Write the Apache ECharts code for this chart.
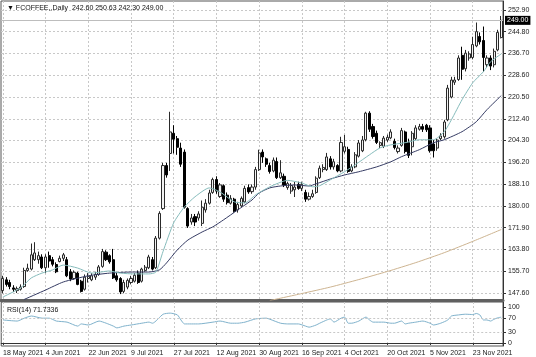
<!DOCTYPE html>
<html><head><meta charset="utf-8">
<script src="https://cdn.jsdelivr.net/npm/echarts@6/dist/echarts.min.js"></script>
<style>html,body{margin:0;padding:0;background:#fff}#c{width:536px;height:357px}</style>
</head><body><div id="c"></div>
<script>
const symbolName = 'FCOFFEE,,Daily';
const dates = ['18 May 2021','19 May 2021','20 May 2021','21 May 2021','24 May 2021','25 May 2021','26 May 2021','27 May 2021','28 May 2021',
'1 Jun 2021','2 Jun 2021','3 Jun 2021','4 Jun 2021','7 Jun 2021','8 Jun 2021','9 Jun 2021','10 Jun 2021','11 Jun 2021','14 Jun 2021','15 Jun 2021','16 Jun 2021','17 Jun 2021','18 Jun 2021','21 Jun 2021','22 Jun 2021','23 Jun 2021','24 Jun 2021','25 Jun 2021','28 Jun 2021','29 Jun 2021','30 Jun 2021',
'1 Jul 2021','2 Jul 2021','6 Jul 2021','7 Jul 2021','8 Jul 2021','9 Jul 2021','12 Jul 2021','13 Jul 2021','14 Jul 2021','15 Jul 2021','16 Jul 2021','19 Jul 2021','20 Jul 2021','21 Jul 2021','22 Jul 2021','23 Jul 2021','26 Jul 2021','27 Jul 2021','28 Jul 2021','29 Jul 2021','30 Jul 2021',
'2 Aug 2021','3 Aug 2021','4 Aug 2021','5 Aug 2021','6 Aug 2021','9 Aug 2021','10 Aug 2021','11 Aug 2021','12 Aug 2021','13 Aug 2021','16 Aug 2021','17 Aug 2021','18 Aug 2021','19 Aug 2021','20 Aug 2021','23 Aug 2021','24 Aug 2021','25 Aug 2021','26 Aug 2021','27 Aug 2021','30 Aug 2021','31 Aug 2021',
'1 Sep 2021','2 Sep 2021','3 Sep 2021','7 Sep 2021','8 Sep 2021','9 Sep 2021','10 Sep 2021','13 Sep 2021','14 Sep 2021','15 Sep 2021','16 Sep 2021','17 Sep 2021','20 Sep 2021','21 Sep 2021','22 Sep 2021','23 Sep 2021','24 Sep 2021','27 Sep 2021','28 Sep 2021','29 Sep 2021','30 Sep 2021',
'1 Oct 2021','4 Oct 2021','5 Oct 2021','6 Oct 2021','7 Oct 2021','8 Oct 2021','11 Oct 2021','12 Oct 2021','13 Oct 2021','14 Oct 2021','15 Oct 2021','18 Oct 2021','19 Oct 2021','20 Oct 2021','21 Oct 2021','22 Oct 2021','25 Oct 2021','26 Oct 2021','27 Oct 2021','28 Oct 2021','29 Oct 2021',
'1 Nov 2021','2 Nov 2021','3 Nov 2021','4 Nov 2021','5 Nov 2021','8 Nov 2021','9 Nov 2021','10 Nov 2021','11 Nov 2021','12 Nov 2021','15 Nov 2021','16 Nov 2021','17 Nov 2021','18 Nov 2021','19 Nov 2021','22 Nov 2021','23 Nov 2021','24 Nov 2021','26 Nov 2021','29 Nov 2021','30 Nov 2021',
'1 Dec 2021','2 Dec 2021','3 Dec 2021','6 Dec 2021'];

const opens = [148.5,152.5,151.5,149.5,148.5,149,150,156,156.5,160,160,161,157,161.5,160,158.2,159.3,160.5,160,155.5,
153,155,152,149,153,152.5,153.5,154.5,157.5,162.8,161.5,160,154,153,148.2,149.8,151.5,152,155,152,
156,157,160,157,168,179,195,199.5,207,205,201.5,200,179,174,176,175.5,173.5,178.5,181,185,
189.8,183.5,187.5,184,181,182.5,178.5,180,181.5,186.8,185.3,187,193.5,200,197.5,195,193,196.5,190.5,191,
186.8,185.5,186,188,186.5,185,182.5,183.5,185,190.5,193.5,193.5,197.5,194.5,195,193,200.3,201,193,194.5,
198.5,200.5,204.6,214.5,209.5,207,202.5,202.2,204.5,205.3,204,200.2,202.5,207.5,203.5,202,205,208.5,209.5,210,
209,203,201.5,205,205.7,212,220.5,226,227,236,231,235,235.2,239.5,243,241.5,232.5,235,232.5,238,242.6];
const closes = [153,150.8,150,149,149.2,149.8,156,156.8,161.8,162.5,161.5,157,161,159.5,158.3,155.5,160.5,161.8,154,152.8,
155.3,150.8,148.2,153.5,153.8,154,154.5,157.3,163,160,159.2,153.2,152.5,148,151.5,152.3,153,154.2,151.5,156.5,
157.2,161,156.5,168,177.2,195,191.5,207.5,204.8,201.8,195.5,179.5,172.5,175.5,174,177,179.5,181,184.8,189.8,
185.5,187.8,182.5,181.2,182.8,178,180.5,182.8,186.5,185.2,187,193.5,199.7,198.2,195.5,192.8,197,190.5,192.3,187.8,
188.3,187.6,187,186.5,188,182.5,183.5,184.5,190.3,194,194.3,198.2,194.5,196.4,193,203.6,202,192.8,194.5,199,
203.4,204.5,214.5,208.5,205.8,203.6,203.5,205.2,205.5,207.5,201.7,201.5,208,200.2,198.8,207,209,209.5,208.5,208.3,
200.5,200.5,204.5,206,211.2,223.8,226.8,226.8,235,230.8,236.8,236.5,240,244.8,241,235.2,235,232,237.5,244.5,249];
const lows = [147.5,150,149,148,147.6,148.5,149.5,155.5,156,159.5,158.5,156.5,155,157,157.5,155,159,159.5,153.5,152,
152.5,150.5,147.8,148.5,151.5,152,152.5,154,157,159.5,158.5,152.8,151.8,147.2,147.5,149,150.8,151.5,151,151.5,
155.5,156.5,156,156.5,167.5,178.5,190.5,193,199.5,199,194.5,179,171.8,173,172.5,174.5,172.5,177.5,180.5,184.5,
184.5,183,181.5,180.5,180.5,177.5,177.5,179.5,181,184.5,184.5,186,193,196,194.5,192,192.5,190,190,187,
186,184.5,183.3,186,185.5,181.5,182,183,184.5,190,192.5,193,193.5,193.5,192.5,192.5,199.5,192.3,192.5,194,
198,200,204,207.5,205,203,201.5,201.5,203.8,204.8,201,199.5,202,199.5,197.8,198.8,204.5,208,207.5,207.5,
199.8,198,200.5,204.5,205,211.5,220,225,226.5,226.9,230,234,234.5,239,240,229.9,231.5,230.5,231.5,237.5,242.3];
const highs = [154,153.5,152.5,150.5,150,150.8,157,158.5,166,166.5,163,162,162,163,161,159,161.5,162.5,161,156.5,
156,155.5,152.5,154.5,155,155,155.5,158,164,163.5,162,164,155.5,153.5,152.5,153,154,155,156,157,
158,161.8,161,168.8,178,196,196,215,210,206,203.5,201,179.5,177,177,178,182,182.5,186,190.5,
191,188.5,188,185,184,183,181.5,183.5,187.5,188,188,194.5,200.9,201,198,196,198,198,197,192,
189,188.5,188.9,189,189,186,185,186,191,195,195.5,199.7,198.5,197.5,195.5,205.7,206.4,202,195.5,200,
204.5,206,215,215.2,210.5,208,204,206,206.5,208.5,205,202.5,209,208,205,207.8,210,210.5,210.5,210.5,
210,204.5,205,207,212,225,228,228,236,239.2,238,237.5,242.9,248.2,244.5,246.7,236,236,238.5,245.5,250.63];

// moving averages as [bar index, value]
const maFast = [[0,146.1],[5,149.5],[8,153.2],[11,155],[14,156.2],[17,158],[21,156.9],[25,155],[30,155.8],[33,155],[37,154.7],[41,154.7],[43,155.4],[45,163],[48,173.7],[51,179.6],[54,183.4],[58,186.7],[61,185.2],[65,181.5],[68,181.1],[71,184.1],[75,187.1],[80,189.5],[84,188.5],[87,187.1],[89,187.5],[92,189.7],[96,192.7],[99,195.3],[103,199],[106,201.6],[109,202.7],[113,203.5],[117,204.6],[121,204.6],[124,207.6],[126,212],[129,219.5],[132,225.8],[135,229.9],[137,233.6],[140,236.5]];
const maSlow = [[6,145.2],[12,148.7],[17,151.7],[24,154],[30,155],[36,155.4],[41,155.4],[44,156.2],[46,158.8],[49,163.6],[52,167.3],[56,170.3],[59,172.2],[62,174.8],[66,178.5],[70,182.2],[72,184.8],[75,186.7],[78,187.4],[82,187.8],[86,187.4],[88,188.2],[92,190],[96,191.5],[100,192.7],[105,194.5],[109,196.4],[112,198.3],[117,200.9],[121,203.5],[124,204.6],[129,207.6],[133,211.3],[136,215.8],[140,221]];
const maLong = [[75,144.8],[84,147.4],[92,149.8],[100,152.6],[108,155.6],[116,158.9],[124,162.6],[132,166.8],[140,171.2]];
const rsi14 = [[0,64],[4,61],[6,69],[8,75],[11,69],[13,69],[15,61],[18,58],[21,47],[22,53],[24,50],[27,61],[29,55],[31,47],[32,42],[34,47],[36,50],[39,55],[41,58],[42,55],[45,80],[47,83],[49,78],[50,64],[51,53],[55,53],[59,58],[61,61],[64,55],[66,55],[68,58],[71,67],[74,69],[75,66],[78,55],[80,53],[83,53],[85,47],[86,44],[88,50],[89,55],[91,64],[92,67],[93,58],[95,69],[96,72],[97,55],[98,55],[100,61],[102,72],[103,64],[104,58],[107,58],[109,55],[110,55],[112,61],[113,53],[114,55],[116,58],[118,61],[120,55],[121,50],[123,55],[125,64],[126,75],[128,78],[130,80],[132,79],[133,82],[134,78],[135,64],[136,64],[137,61],[138,66],[139,70],[140,71.7336]];

const priceTicks = [147.6,155.7,163.8,171.9,180.0,188.1,196.2,204.3,212.4,220.5,228.6,236.7,244.8,252.9];
const rsiTicks = [0,30,70,100];
const rsiLevels = [30,70];

const candleData = dates.map((d,i)=>[opens[i],closes[i],lows[i],highs[i]]);
const last = dates.length-1;
const header = '\u25BC ' + symbolName + '  ' + [opens[last],highs[last],lows[last],closes[last]].map(v=>v.toFixed(2)).join(' ');
const rsiLast = rsi14[rsi14.length-1][1];

const FONT = 'Liberation Sans';
const gridLine = {show:true, lineStyle:{color:'#c8c8c8', type:[2,2], width:1}};
const every12 = (i)=> i % 12 === 0;

const chart = echarts.init(document.getElementById('c'), null, {renderer:'canvas'});
chart.setOption({
  animation:false,
  backgroundColor:'#fff',
  title:[
    {text:header, left:2, top:0, textStyle:{fontSize:7, fontWeight:'normal', color:'#111', fontFamily:FONT}},
    {text:'RSI(14) ' + rsiLast, left:2, top:302, textStyle:{fontSize:7, fontWeight:'normal', color:'#111', fontFamily:FONT}}
  ],
  grid:[
    {left:1, right:33, top:1, height:299, show:true, borderColor:'#555', borderWidth:1},
    {left:1, right:33, top:302, height:44, show:true, borderColor:'#555', borderWidth:1}
  ],
  xAxis:[
    {type:'category', gridIndex:0, data:dates, boundaryGap:true,
     axisLine:{show:true, lineStyle:{color:'#606060', width:3}},
     axisTick:{show:false}, axisLabel:{show:false},
     splitLine:Object.assign({interval:every12, alignWithLabel:true}, gridLine)},
    {type:'category', gridIndex:1, data:dates, boundaryGap:true,
     axisLine:{show:true, lineStyle:{color:'#333', width:1}},
     axisTick:{show:true, interval:every12, alignWithLabel:true, length:2, lineStyle:{color:'#333'}},
     axisLabel:{interval:every12, align:'left', margin:4, fontSize:7, color:'#222', fontFamily:FONT, hideOverlap:false},
     splitLine:Object.assign({interval:every12, alignWithLabel:true}, gridLine)}
  ],
  yAxis:[
    {type:'value', gridIndex:0, position:'right', min:145.0, max:256.2,
     axisLine:{show:true, lineStyle:{color:'#333'}},
     axisTick:{show:true, length:3, customValues:priceTicks, lineStyle:{color:'#333'}},
     axisLabel:{customValues:priceTicks, formatter:v=>v.toFixed(2), fontSize:7, color:'#222', margin:5, fontFamily:FONT},
     splitLine:gridLine},
    {type:'value', gridIndex:1, position:'right', min:-8.3, max:113.9,
     axisLine:{show:true, lineStyle:{color:'#333'}},
     axisTick:{show:true, length:3, customValues:rsiTicks, lineStyle:{color:'#333'}},
     axisLabel:{customValues:rsiTicks, fontSize:7, color:'#222', margin:5, fontFamily:FONT},
     splitLine:{show:false}}
  ],
  series:[
    {type:'candlestick', xAxisIndex:0, yAxisIndex:0, data:candleData, barWidth:2.6,
     itemStyle:{color:'#f2f2f2', color0:'#000', borderColor:'#2a2a2a', borderColor0:'#000', borderWidth:1},
     markLine:{silent:true, symbol:['none','none'], animation:false,
       lineStyle:{color:'#bdbdbd', type:'solid', width:1},
       label:{position:'end', distance:2, formatter:()=>closes[last].toFixed(2), backgroundColor:'#000', color:'#fff', fontSize:7, padding:[1,2,1,2], fontFamily:FONT},
       data:[{yAxis:closes[last]}]}},
    {type:'line', xAxisIndex:0, yAxisIndex:0, data:maLong, symbol:'none', smooth:0.2, lineStyle:{color:'#cdb491', width:1}},
    {type:'line', xAxisIndex:0, yAxisIndex:0, data:maSlow, symbol:'none', smooth:0.2, lineStyle:{color:'#353b63', width:1}},
    {type:'line', xAxisIndex:0, yAxisIndex:0, data:maFast, symbol:'none', smooth:0.2, lineStyle:{color:'#86bcbc', width:1}},
    {type:'line', xAxisIndex:1, yAxisIndex:1, data:rsi14, symbol:'none', smooth:0.2, lineStyle:{color:'#7fb2cc', width:1},
     markLine:{silent:true, symbol:['none','none'], animation:false, label:{show:false},
       lineStyle:{color:'#c8c8c8', type:[2,2], width:1},
       data:rsiLevels.map(v=>({yAxis:v}))}}
  ]
});
</script></body></html>
